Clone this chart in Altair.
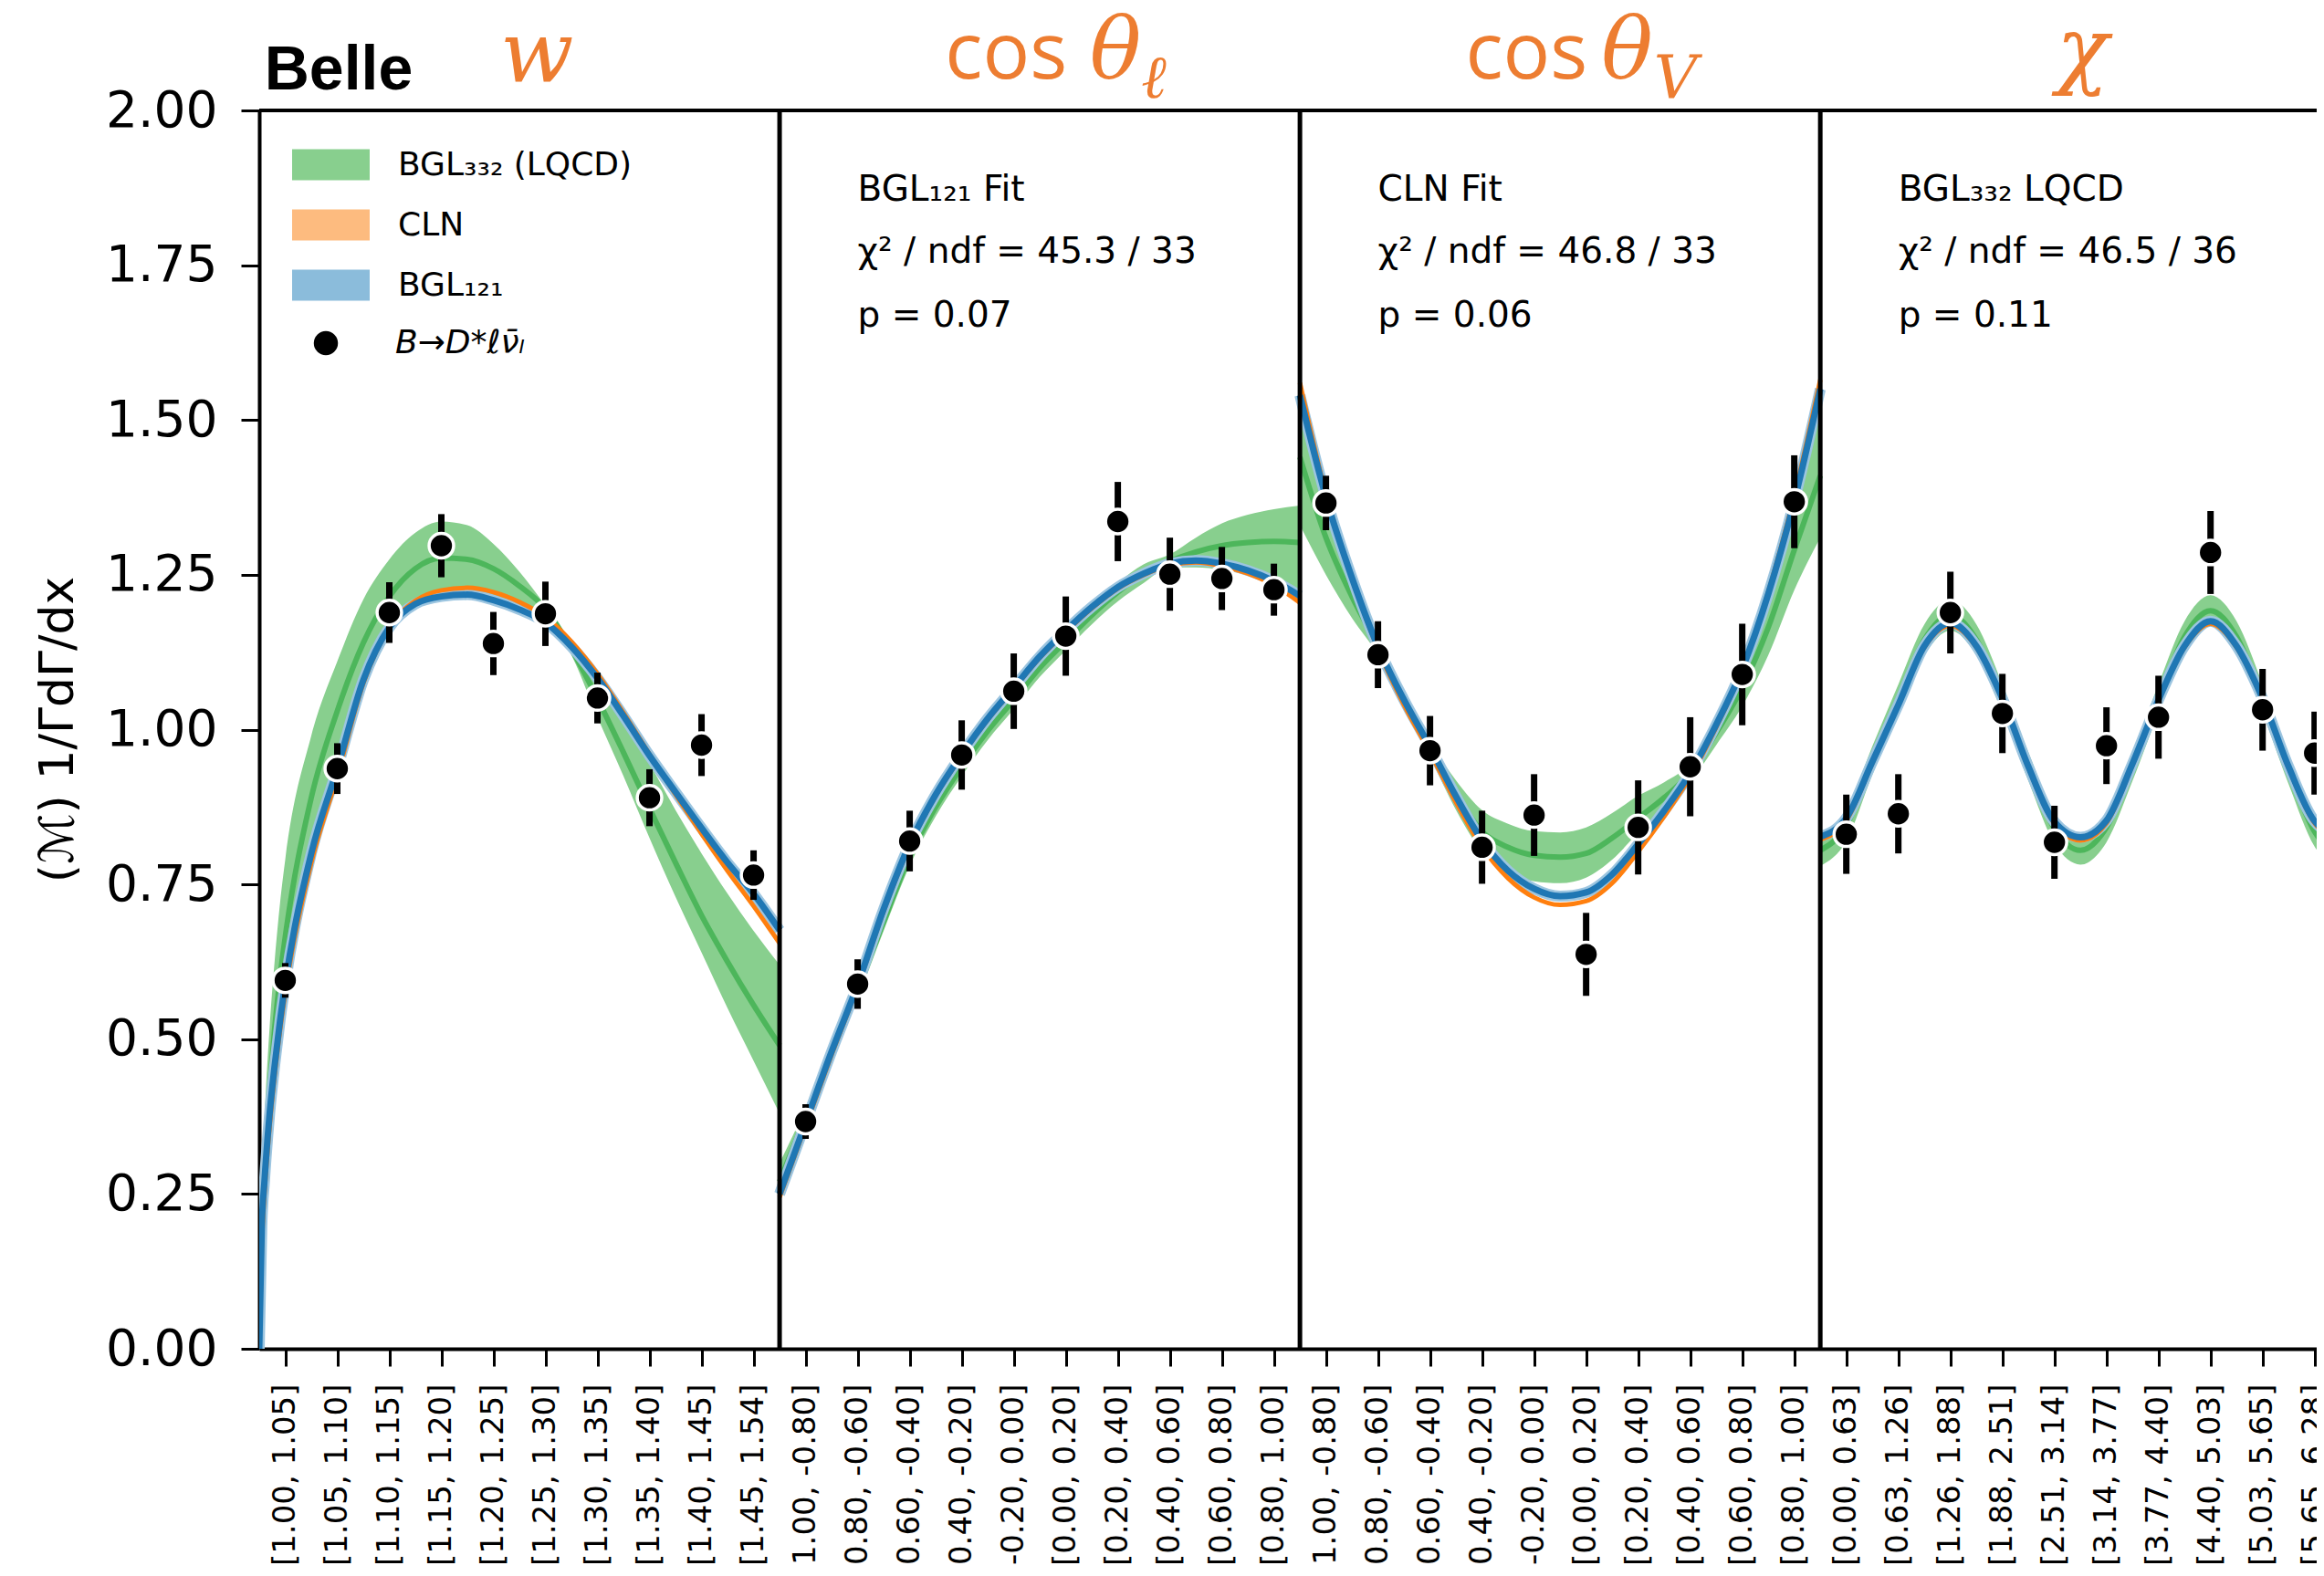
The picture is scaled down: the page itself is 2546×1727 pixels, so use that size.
import json
import altair as alt
import pandas as pd

BIN_POS = list(range(40))
VALUES = [0.595, 0.937, 1.189, 1.297, 1.139, 1.187, 1.051, 0.890, 0.975, 0.765,
          0.367, 0.589, 0.820, 0.959, 1.062, 1.151, 1.336, 1.251, 1.244, 1.226,
          1.366, 1.121, 0.966, 0.810, 0.862, 0.637, 0.842, 0.940, 1.089, 1.368,
          0.831, 0.864, 1.189, 1.026, 0.818, 0.974, 1.020, 1.286, 1.032, 0.962]
ERRORS = [0.028, 0.041, 0.049, 0.051, 0.051, 0.052, 0.041, 0.046, 0.050, 0.040,
          0.028, 0.040, 0.049, 0.056, 0.061, 0.064, 0.064, 0.059, 0.051, 0.042,
          0.044, 0.054, 0.056, 0.059, 0.066, 0.067, 0.076, 0.080, 0.082, 0.075,
          0.064, 0.064, 0.066, 0.064, 0.059, 0.062, 0.067, 0.067, 0.066, 0.067]
TICK_LABELS = [
    "[1.00, 1.05]", "[1.05, 1.10]", "[1.10, 1.15]", "[1.15, 1.20]", "[1.20, 1.25]",
    "[1.25, 1.30]", "[1.30, 1.35]", "[1.35, 1.40]", "[1.40, 1.45]", "[1.45, 1.54]",
    "[-1.00, -0.80]", "[-0.80, -0.60]", "[-0.60, -0.40]", "[-0.40, -0.20]", "[-0.20, 0.00]",
    "[0.00, 0.20]", "[0.20, 0.40]", "[0.40, 0.60]", "[0.60, 0.80]", "[0.80, 1.00]",
    "[-1.00, -0.80]", "[-0.80, -0.60]", "[-0.60, -0.40]", "[-0.40, -0.20]", "[-0.20, 0.00]",
    "[0.00, 0.20]", "[0.20, 0.40]", "[0.40, 0.60]", "[0.60, 0.80]", "[0.80, 1.00]",
    "[0.00, 0.63]", "[0.63, 1.26]", "[1.26, 1.88]", "[1.88, 2.51]", "[2.51, 3.14]",
    "[3.14, 3.77]", "[3.77, 4.40]", "[4.40, 5.03]", "[5.03, 5.65]", "[5.65, 6.28]"]
PANEL_EDGES = [9.5, 19.5, 29.5]

# ---------------- fitted curves ----------------
CX1 = [-0.5, -0.45, -0.4, -0.3, -0.2, -0.1, 0.0, 0.5, 1.0, 1.5, 2.0, 2.5, 3.0, 3.5,
       4.0, 4.5, 5.0, 5.5, 6.0, 6.5, 7.0, 7.5, 8.0, 8.5, 9.0, 9.5]
CX2 = [9.5, 10.0, 10.5, 11.0, 11.5, 12.0, 12.5, 13.0, 13.5, 14.0, 14.5, 15.0, 15.5,
       16.0, 16.5, 17.0, 17.5, 18.0, 18.5, 19.0, 19.5]
CX3 = [19.5, 20.0, 20.5, 21.0, 21.5, 22.0, 22.5, 23.0, 23.5, 24.0, 24.5, 25.0, 25.5,
       26.0, 26.5, 27.0, 27.5, 28.0, 28.5, 29.0, 29.5]
CX4 = [29.5, 30.0, 30.5, 31.0, 31.5, 32.0, 32.5, 33.0, 33.5, 34.0, 34.5, 35.0, 35.5,
       36.0, 36.5, 37.0, 37.5, 38.0, 38.5, 39.0, 39.5]

# BGL121 (blue)
B1 = [0.00, 0.20, 0.27, 0.38, 0.46, 0.53, 0.59, 0.80, 0.937, 1.08, 1.165, 1.203, 1.215,
      1.218, 1.209, 1.194, 1.173, 1.134, 1.083, 1.022, 0.958, 0.899, 0.841, 0.785, 0.735, 0.676]
B2 = [0.25, 0.365, 0.48, 0.588, 0.71, 0.815, 0.895, 0.96, 1.018, 1.068, 1.118, 1.16, 1.198,
      1.23, 1.252, 1.268, 1.273, 1.268, 1.257, 1.24, 1.216]
B3 = [1.54, 1.375, 1.245, 1.134, 1.048, 0.972, 0.892, 0.821, 0.772, 0.743, 0.731, 0.737,
      0.766, 0.815, 0.869, 0.93, 1.008, 1.098, 1.219, 1.369, 1.55]
B4 = [0.827, 0.857, 0.948, 1.04, 1.135, 1.172, 1.135, 1.05, 0.94, 0.851, 0.826, 0.853,
      0.945, 1.048, 1.135, 1.175, 1.135, 1.05, 0.94, 0.852, 0.826]
# CLN (orange)
O1 = [0.00, 0.17, 0.25, 0.36, 0.445, 0.515, 0.575, 0.785, 0.925, 1.075, 1.165, 1.208, 1.225,
      1.229, 1.222, 1.206, 1.182, 1.142, 1.09, 1.027, 0.96, 0.895, 0.832, 0.772, 0.715, 0.655]
O2 = [0.245, 0.36, 0.475, 0.585, 0.707, 0.812, 0.893, 0.958, 1.016, 1.066, 1.116, 1.158,
      1.196, 1.228, 1.25, 1.265, 1.27, 1.264, 1.252, 1.233, 1.205]
O3 = [1.56, 1.38, 1.245, 1.13, 1.04, 0.963, 0.882, 0.81, 0.76, 0.729, 0.717, 0.723, 0.752,
      0.803, 0.86, 0.924, 1.004, 1.097, 1.222, 1.377, 1.565]
O4 = [0.822, 0.853, 0.946, 1.04, 1.133, 1.168, 1.133, 1.048, 0.938, 0.848, 0.821, 0.849,
      0.943, 1.047, 1.133, 1.171, 1.133, 1.048, 0.938, 0.849, 0.821]
# BGL332 LQCD (green): central value, lower and upper edge of the band
G1 = [0.00, 0.22, 0.30, 0.42, 0.52, 0.60, 0.665, 0.89, 1.03, 1.14, 1.215, 1.26, 1.277,
      1.275, 1.26, 1.232, 1.195, 1.13, 1.05, 0.963, 0.873, 0.785, 0.70, 0.625, 0.555, 0.49]
G2 = [0.27, 0.375, 0.48, 0.58, 0.69, 0.795, 0.875, 0.94, 0.998, 1.048, 1.10, 1.143, 1.185,
      1.222, 1.252, 1.272, 1.287, 1.297, 1.302, 1.304, 1.302]
G3 = [1.44, 1.31, 1.215, 1.135, 1.05, 0.968, 0.895, 0.835, 0.81, 0.797, 0.794, 0.80, 0.825,
      0.857, 0.89, 0.93, 0.995, 1.068, 1.165, 1.29, 1.41]
G4 = [0.805, 0.845, 0.95, 1.05, 1.145, 1.185, 1.145, 1.05, 0.94, 0.84, 0.805, 0.842, 0.94,
      1.05, 1.15, 1.192, 1.15, 1.05, 0.935, 0.835, 0.80]
GL1 = [0.00, 0.17, 0.24, 0.34, 0.42, 0.49, 0.55, 0.78, 0.93, 1.06, 1.15, 1.20, 1.218,
       1.222, 1.215, 1.205, 1.185, 1.12, 1.02, 0.925, 0.825, 0.73, 0.64, 0.55, 0.465, 0.38]
GL2 = [0.24, 0.36, 0.465, 0.565, 0.675, 0.78, 0.86, 0.925, 0.983, 1.033, 1.085, 1.128,
       1.17, 1.207, 1.237, 1.262, 1.262, 1.258, 1.25, 1.24, 1.225]
GL3 = [1.33, 1.25, 1.18, 1.12, 1.035, 0.955, 0.87, 0.803, 0.77, 0.755, 0.752, 0.761, 0.79,
       0.833, 0.87, 0.915, 0.975, 1.038, 1.12, 1.225, 1.31]
GL4 = [0.78, 0.82, 0.927, 1.027, 1.12, 1.16, 1.12, 1.027, 0.917, 0.816, 0.782, 0.818,
       0.917, 1.027, 1.125, 1.167, 1.125, 1.027, 0.912, 0.811, 0.777]
GU1 = [0.00, 0.27, 0.37, 0.52, 0.63, 0.72, 0.79, 0.99, 1.11, 1.21, 1.275, 1.318, 1.336,
       1.33, 1.30, 1.255, 1.20, 1.14, 1.08, 1.015, 0.945, 0.87, 0.80, 0.735, 0.675, 0.62]
GU2 = [0.30, 0.39, 0.495, 0.595, 0.705, 0.81, 0.89, 0.955, 1.013, 1.063, 1.115, 1.158,
       1.2, 1.237, 1.267, 1.283, 1.31, 1.333, 1.347, 1.356, 1.362]
GU3 = [1.54, 1.38, 1.25, 1.15, 1.062, 0.98, 0.918, 0.87, 0.848, 0.836, 0.834, 0.842, 0.865,
       0.893, 0.915, 0.945, 1.01, 1.098, 1.22, 1.37, 1.53]
GU4 = [0.83, 0.87, 0.973, 1.073, 1.17, 1.21, 1.17, 1.073, 0.963, 0.864, 0.828, 0.866,
       0.963, 1.073, 1.175, 1.217, 1.175, 1.073, 0.958, 0.859, 0.823]

LEGEND_MODELS = ["BGL₃₃₂ (LQCD)", "CLN", "BGL₁₂₁"]
LEGEND_DATA = "B→D*ℓν̄ₗ"
ANNOT_X = [11.0, 11.0, 11.0, 21.0, 21.0, 21.0, 31.0, 31.0, 31.0]
ANNOT_Y = [1.872, 1.772, 1.668, 1.872, 1.772, 1.668, 1.872, 1.772, 1.668]
ANNOT_TEXT = ["BGL₁₂₁ Fit", "χ² / ndf = 45.3 / 33", "p = 0.07",
              "CLN Fit", "χ² / ndf = 46.8 / 33", "p = 0.06",
              "BGL₃₃₂ LQCD", "χ² / ndf = 46.5 / 36", "p = 0.11"]

# ---------------- tables ----------------
rows = []
for panel, xs, b, o, g, gl, gu in [
        (1, CX1, B1, O1, G1, GL1, GU1), (2, CX2, B2, O2, G2, GL2, GU2),
        (3, CX3, B3, O3, G3, GL3, GU3), (4, CX4, B4, O4, G4, GL4, GU4)]:
    for i in range(len(xs)):
        rows.append({"x": xs[i], "panel": panel, "blue": b[i], "orange": o[i],
                     "green": g[i], "glo": gl[i], "ghi": gu[i], "model": LEGEND_MODELS[0]})
curves = pd.DataFrame(rows)
points = pd.DataFrame({"pos": BIN_POS, "val": VALUES, "err": ERRORS, "kind": LEGEND_DATA})
edges = pd.DataFrame({"edge": PANEL_EDGES})
annot = pd.DataFrame({"x": ANNOT_X, "y": ANNOT_Y, "text": ANNOT_TEXT})

ORANGE = "#ED7D31"
XS = alt.Scale(domain=[-0.5, 39.04], nice=False, zero=False)
YS = alt.Scale(domain=[0, 2], nice=False, zero=False)
label_array = "[" + ",".join(json.dumps(t) for t in TICK_LABELS) + "]"
XAXIS = alt.Axis(values=BIN_POS, labelExpr=label_array + "[datum.value]", title=None,
                 grid=False, labelAngle=270, labelAlign="right", labelBaseline="middle",
                 labelFontSize=34, labelFont="DejaVu Sans", labelColor="black",
                 labelPadding=19, labelOverlap=False, labelFlush=False, labelBound=False,
                 labelLimit=1000,
                 tickSize=19, tickWidth=3, tickColor="black",
                 domainColor="black", domainWidth=4)
YAXIS = alt.Axis(values=[0, 0.25, 0.5, 0.75, 1.0, 1.25, 1.5, 1.75, 2.0], format=".2f",
                 title="(ℳ) 1/ΓdΓ/dx", titleFontSize=52, titleFont="DejaVu Sans",
                 titleFontWeight="normal", titleColor="black", titleAngle=270,
                 titleX=-221, titleY=678, titleAlign="center", titleBaseline="middle",
                 grid=False, labelFontSize=55, labelFont="DejaVu Sans", labelColor="black",
                 labelPadding=26, tickSize=20, tickWidth=3, tickColor="black",
                 domainColor="black", domainWidth=4)


def X(field):
    return alt.X(field, scale=XS, axis=XAXIS)


def Y(field):
    return alt.Y(field, scale=YS, axis=YAXIS)


base_c = alt.Chart(curves)

band = base_c.mark_area(interpolate="monotone", clip=True, opacity=1).encode(
    x=X("x:Q"), y=Y("glo:Q"), y2="ghi:Q", detail="panel:N",
    color=alt.Color("model:N",
                    scale=alt.Scale(domain=LEGEND_MODELS,
                                    range=["#88CF8E", "#FDBB7F", "#8BBCDB"]),
                    legend=alt.Legend(orient="none", legendX=36, legendY=17, title=None,
                                      direction="vertical",
                                      symbolType="M-1,-0.4H1V0.4H-1Z", symbolSize=7225,
                                      symbolStrokeWidth=0, symbolOpacity=1,
                                      labelFont="DejaVu Sans", labelFontSize=36,
                                      labelColor="black", labelOffset=31, labelLimit=600,
                                      rowPadding=5, padding=0)))
green_line = base_c.mark_line(interpolate="monotone", clip=True, color="#4DB65B",
                              strokeWidth=6).encode(x=X("x:Q"), y=Y("green:Q"), detail="panel:N")
blue_halo = base_c.mark_line(interpolate="monotone", clip=True, color="#9CC5E0",
                             strokeWidth=12).encode(x=X("x:Q"), y=Y("blue:Q"), detail="panel:N")
orange_line = base_c.mark_line(interpolate="monotone", clip=True, color="#FF7F0E",
                               strokeWidth=5).encode(x=X("x:Q"), y=Y("orange:Q"), detail="panel:N")
blue_line = base_c.mark_line(interpolate="monotone", clip=True, color="#1F77B4",
                             strokeWidth=7).encode(x=X("x:Q"), y=Y("blue:Q"), detail="panel:N")

separators = alt.Chart(edges).mark_rule(color="black", strokeWidth=5).encode(x=X("edge:Q"))
top_spine = alt.Chart(edges).mark_rule(color="black", strokeWidth=4).encode(y=alt.datum(2.0))

errbars = alt.Chart(points).transform_calculate(
    lo="datum.val - datum.err", hi="datum.val + datum.err"
).mark_rule(color="black", strokeWidth=7).encode(x=X("pos:Q"), y=Y("lo:Q"), y2="hi:Q")

dots = alt.Chart(points).mark_point(filled=True, fill="black", stroke="white", strokeWidth=3.5,
                                    size=720, opacity=1).encode(
    x=X("pos:Q"), y=Y("val:Q"),
    shape=alt.Shape("kind:N", scale=alt.Scale(domain=[LEGEND_DATA], range=["circle"]),
                    legend=alt.Legend(orient="none", legendX=55, legendY=237, title=None,
                                      symbolType="circle", symbolSize=700,
                                      symbolFillColor="black", symbolStrokeWidth=0,
                                      symbolOpacity=1, labelFont="DejaVu Sans",
                                      labelFontSize=36, labelFontStyle="italic",
                                      labelColor="black", labelOffset=58, labelLimit=600,
                                      padding=0)))

annotations = alt.Chart(annot).mark_text(font="DejaVu Sans", fontSize=39, align="left",
                                         baseline="middle", color="black").encode(
    x=X("x:Q"), y=Y("y:Q"), text="text:N")

belle = alt.Chart(pd.DataFrame({"x": [-0.4], "y": [2.034], "t": ["Belle"]})).mark_text(
    font="Liberation Sans", fontWeight="bold", fontSize=68, align="left",
    baseline="alphabetic", color="black").encode(x=X("x:Q"), y=Y("y:Q"), text="t:N")
cos_txt = alt.Chart(pd.DataFrame({"x": [15.03, 25.03], "y": [2.051, 2.051],
                                  "t": ["cos", "cos"]})).mark_text(
    font="Open Sans", fontSize=86, align="right", baseline="alphabetic",
    color=ORANGE).encode(x=X("x:Q"), y=Y("y:Q"), text="t:N")
sym_txt = alt.Chart(pd.DataFrame({"x": [4.13, 15.46, 25.29, 34.04],
                                  "y": [2.045, 2.051, 2.051, 2.051],
                                  "t": ["w", "θ", "θ", "χ"]})).mark_text(
    font="DejaVu Serif", fontStyle="italic", fontSize=94, align="left",
    baseline="alphabetic", color=ORANGE).encode(x=X("x:Q"), y=Y("y:Q"), text="t:N")
sub_txt = alt.Chart(pd.DataFrame({"x": [16.45, 26.3], "y": [2.0206, 2.0206],
                                  "t": ["ℓ", "V"]})).mark_text(
    font="DejaVu Serif", fontStyle="italic", fontSize=66, align="left",
    baseline="alphabetic", color=ORANGE).encode(x=X("x:Q"), y=Y("y:Q"), text="t:N")

chart = alt.layer(
    band, green_line, blue_halo, orange_line, blue_line,
    separators, top_spine, errbars, dots, annotations,
    belle, cos_txt, sym_txt, sub_txt
).properties(
    width=2254, height=1357,
    autosize=alt.AutoSizeParams(type="none"),
    padding={"left": 276, "top": 113, "right": 0, "bottom": 238},
).configure_view(strokeWidth=0).configure(font="DejaVu Sans")

chart.save("out.html", embed_options={"renderer": "svg", "actions": False})
